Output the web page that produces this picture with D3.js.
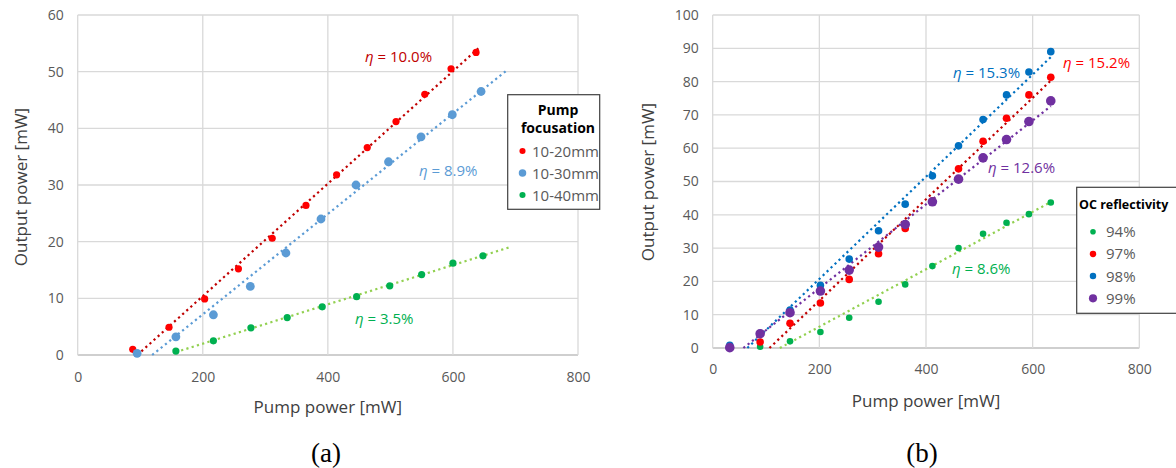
<!DOCTYPE html>
<html>
<head>
<meta charset="utf-8">
<script src="https://cdn.jsdelivr.net/npm/d3@7"></script>
<style>
  body { margin: 0; background: #fff; }
  svg text { font-family: "Open Sans", sans-serif; }
</style>
</head>
<body>
<div id="chart-area"></div>
<script>
let width = 1176,
    height = 468;

// ---- panel (a): pump focusation ----
let xA20 = [88, 146, 203, 257, 311, 365, 414, 463, 509, 555, 597, 637];
let yA20 = [1.0, 4.9, 9.9, 15.2, 20.6, 26.4, 31.8, 36.6, 41.2, 46.0, 50.5, 53.4];
let xA30 = [95, 157, 217, 276, 333, 389, 445, 497, 549, 599, 645];
let yA30 = [0.3, 3.2, 7.1, 12.1, 18.0, 24.0, 30.0, 34.1, 38.5, 42.4, 46.5];
let xA40 = [157, 217, 277, 335, 391, 446, 499, 550, 600, 648];
let yA40 = [0.7, 2.5, 4.8, 6.6, 8.5, 10.3, 12.2, 14.2, 16.2, 17.5];
let seriesA = ["10-20mm", "10-30mm", "10-40mm"];
let etaA = ["η = 10.0%", "η = 8.9%", "η = 3.5%"];

// ---- panel (b): OC reflectivity ----
let xB = [32, 89, 145, 202, 256, 311, 361, 412, 461, 507, 551, 593, 634];
let yB94 = [null, 0.4, 2.0, 4.8, 9.1, 13.9, 19.1, 24.6, 30.0, 34.3, 37.6, 40.2, 43.7];
let yB97 = [null, 1.8, 7.4, 13.5, 20.6, 28.3, 35.9, 44.1, 53.8, 62.1, 69.0, 76.0, 81.3];
let yB98 = [0.8, 4.4, 11.4, 18.8, 26.7, 35.2, 43.2, 51.7, 60.7, 68.6, 76.0, 82.9, 89.0];
let yB99 = [0.1, 4.3, 10.6, 17.1, 23.4, 30.3, 37.1, 43.9, 50.7, 57.1, 62.6, 68.0, 74.2];
let seriesB = ["94%", "97%", "98%", "99%"];
let etaB = ["η = 8.6%", "η = 15.2%", "η = 15.3%", "η = 12.6%"];

let xTicks = [0, 200, 400, 600, 800];

let svg = d3.select("#chart-area").append("svg")
  .attr("width", width)
  .attr("height", height);

function pairs(xs, ys) {
  return xs.map((x, i) => ({x: x, y: ys[i]})).filter(d => d.y != null);
}

// least squares trendline, like Excel's linear trendline
function fit(pts) {
  let mx = d3.mean(pts, d => d.x), my = d3.mean(pts, d => d.y);
  let sxy = d3.sum(pts, d => (d.x - mx) * (d.y - my));
  let sxx = d3.sum(pts, d => (d.x - mx) * (d.x - mx));
  let m = sxy / sxx;
  return {m: m, b: my - m * mx};
}

function panel(opt) {
  let g = svg.append("g");
  let x = d3.scaleLinear().domain([0, 800]).range([opt.left, opt.right]);
  let y = d3.scaleLinear().domain([0, opt.ymax]).range([opt.bottom, opt.top]);

  // gridlines
  g.selectAll(".hgrid").data(opt.yTicks).enter().append("line")
    .attr("x1", opt.left).attr("x2", opt.right)
    .attr("y1", d => y(d)).attr("y2", d => y(d))
    .attr("stroke", d => d == 0 ? "#bfbfbf" : "#d9d9d9").attr("stroke-width", 1.3);
  g.selectAll(".vgrid").data(xTicks).enter().append("line")
    .attr("y1", opt.top).attr("y2", opt.bottom)
    .attr("x1", d => x(d)).attr("x2", d => x(d))
    .attr("stroke", "#d9d9d9").attr("stroke-width", 1.3);

  // axes (tick labels only)
  let xa = g.append("g").attr("transform", "translate(0," + opt.bottom + ")")
    .call(d3.axisBottom(x).tickValues(xTicks).tickSize(0).tickPadding(opt.xPad));
  let ya = g.append("g").attr("transform", "translate(" + opt.left + ",0)")
    .call(d3.axisLeft(y).tickValues(opt.yTicks).tickSize(0).tickPadding(opt.yPad));
  [xa, ya].forEach(a => {
    a.select(".domain").remove();
    a.selectAll("text").attr("fill", "#595959").style("font-size", "14px")
      .style("font-family", "'Open Sans', sans-serif");
  });

  g.append("text")
    .attr("x", (opt.left + opt.right) / 2).attr("y", opt.xTitleY)
    .attr("text-anchor", "middle").attr("fill", "#404040")
    .style("font-size", "17px").text("Pump power [mW]");
  g.append("text")
    .attr("transform", "translate(" + opt.yTitleX + "," + opt.yTitleCY + ") rotate(-90)")
    .attr("text-anchor", "middle").attr("fill", "#404040")
    .style("font-size", "17px").text("Output power [mW]");

  // trendlines
  opt.series.forEach(s => {
    let f = fit(s.pts);
    let x0 = Math.max(d3.min(s.pts, d => d.x), -f.b / f.m);
    let x1 = d3.max(s.pts, d => d.x) + (s.forward || 0);
    g.append("line")
      .attr("x1", x(x0)).attr("y1", y(f.m * x0 + f.b))
      .attr("x2", x(x1)).attr("y2", y(f.m * x1 + f.b))
      .attr("stroke", s.lineColor).attr("stroke-width", 2.2)
      .attr("stroke-dasharray", "2.2 3.3");
  });

  // points
  opt.series.forEach(s => {
    g.selectAll(null).data(s.pts).enter().append("circle")
      .attr("cx", d => x(d.x)).attr("cy", d => y(d.y))
      .attr("r", s.r).attr("fill", s.color);
  });

  // efficiency labels
  opt.series.forEach(s => {
    let t = g.append("text").attr("x", s.labelX).attr("y", s.labelY)
      .attr("fill", s.labelColor).style("font-size", "15px");
    t.append("tspan").style("font-style", "italic").text("η");
    t.append("tspan").text(s.eta.slice(1));
  });

  // legend
  let L = opt.legend;
  g.append("rect").attr("x", L.x).attr("y", L.y).attr("width", L.w).attr("height", L.h)
    .attr("fill", "#fff").attr("stroke", "#404040").attr("stroke-width", 1.2);
  L.title.forEach((t, i) => {
    g.append("text").attr("x", L.titleX).attr("y", L.titleY + i * 18)
      .attr("text-anchor", L.titleAnchor).attr("fill", "#000")
      .style("font-size", L.titleSize + "px").style("font-weight", "bold").text(t);
  });
  opt.series.forEach((s, i) => {
    let cy = L.rowY + i * L.rowH;
    g.append("circle").attr("cx", L.dotX).attr("cy", cy).attr("r", s.r * 0.85).attr("fill", s.color);
    g.append("text").attr("x", L.textX).attr("y", cy + 5.5)
      .attr("fill", "#595959").style("font-size", "15px").text(s.name);
  });

  g.append("text").attr("x", opt.capX).attr("y", 462).attr("text-anchor", "middle")
    .attr("fill", "#000").style("font-family", "'Liberation Serif', serif")
    .style("font-size", "27px").text(opt.caption);
}

panel({
  left: 77.7, right: 578, top: 15, bottom: 355, ymax: 60,
  yTicks: [0, 10, 20, 30, 40, 50, 60], xPad: 17, yPad: 14,
  xTitleY: 413, yTitleX: 27, yTitleCY: 187,
  caption: "(a)", capX: 326,
  series: [
    {name: seriesA[0], pts: pairs(xA20, yA20), color: "#ff0000", lineColor: "#c00000", r: 3.6, forward: 4,
     eta: etaA[0], labelX: 365, labelY: 62, labelColor: "#c00000"},
    {name: seriesA[1], pts: pairs(xA30, yA30), color: "#5b9bd5", lineColor: "#5b9bd5", r: 4.4, forward: 43,
     eta: etaA[1], labelX: 419, labelY: 176, labelColor: "#5b9bd5"},
    {name: seriesA[2], pts: pairs(xA40, yA40), color: "#00b050", lineColor: "#92d050", r: 3.6, forward: 44,
     eta: etaA[2], labelX: 355, labelY: 324, labelColor: "#00b050"}
  ],
  legend: {x: 507.7, y: 94.7, w: 92, h: 114.6, title: ["Pump", "focusation"], titleX: 558, titleY: 115,
           titleAnchor: "middle", titleSize: 14, rowY: 151, rowH: 22, dotX: 522.5, textX: 532}
});

panel({
  left: 712.7, right: 1139.3, top: 15, bottom: 348, ymax: 100,
  yTicks: [0, 10, 20, 30, 40, 50, 60, 70, 80, 90, 100], xPad: 16, yPad: 14,
  xTitleY: 407, yTitleX: 654, yTitleCY: 182,
  caption: "(b)", capX: 922,
  series: [
    {name: seriesB[0], pts: pairs(xB, yB94), color: "#00b050", lineColor: "#92d050", r: 3.3,
     eta: etaB[0], labelX: 952, labelY: 274, labelColor: "#00b050"},
    {name: seriesB[1], pts: pairs(xB, yB97), color: "#ff0000", lineColor: "#c00000", r: 3.8,
     eta: etaB[1], labelX: 1063, labelY: 68, labelColor: "#ff0000"},
    {name: seriesB[2], pts: pairs(xB, yB98), color: "#0070c0", lineColor: "#0070c0", r: 3.8,
     eta: etaB[2], labelX: 953, labelY: 78, labelColor: "#0070c0"},
    {name: seriesB[3], pts: pairs(xB, yB99), color: "#7030a0", lineColor: "#7030a0", r: 4.8,
     eta: etaB[3], labelX: 988, labelY: 173, labelColor: "#7030a0"}
  ],
  legend: {x: 1076.7, y: 187.3, w: 110, h: 126, title: ["OC reflectivity"], titleX: 1079, titleY: 209,
           titleAnchor: "start", titleSize: 12.5, rowY: 231.7, rowH: 22.2, dotX: 1093, textX: 1106}
});
</script>
</body>
</html>
